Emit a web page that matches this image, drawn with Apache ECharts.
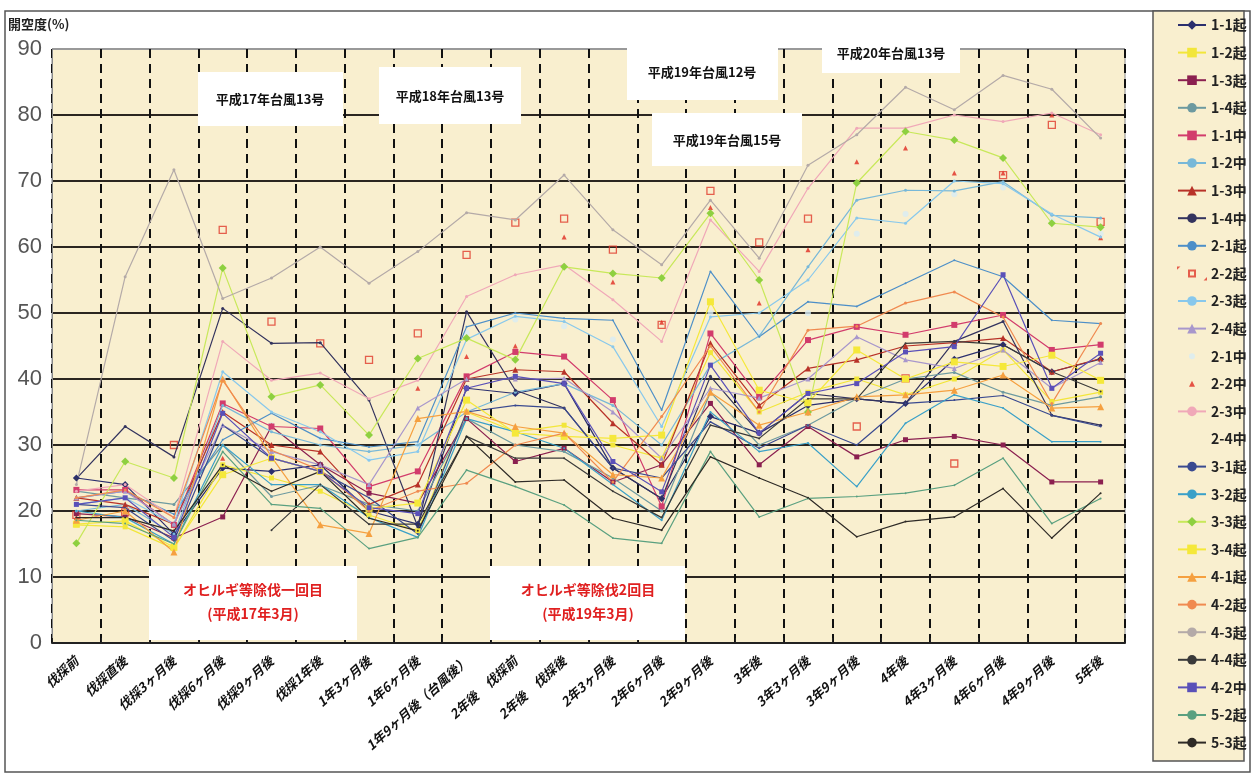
<!DOCTYPE html>
<html>
<head>
<meta charset="utf-8">
<script src="https://cdn.jsdelivr.net/npm/echarts@6/dist/echarts.min.js"></script>
<style>
html, body { margin: 0; padding: 0; background: #fff; }
#chart { width: 1256px; height: 775px; }
</style>
</head>
<body>
<div id="chart"></div>
<script>
// 伐採後の開空度の推移
const categories = ['伐採前', '伐採直後', '伐採3ヶ月後', '伐採6ヶ月後', '伐採9ヶ月後', '伐採1年後',
  '1年3ヶ月後', '1年6ヶ月後', '1年9ヶ月後（台風後）', '2年後　伐採前', '2年後　伐採後', '2年3ヶ月後',
  '2年6ヶ月後', '2年9ヶ月後', '3年後', '3年3ヶ月後', '3年9ヶ月後', '4年後', '4年3ヶ月後',
  '4年6ヶ月後', '4年9ヶ月後', '5年後'];
const yTicks = [0, 10, 20, 30, 40, 50, 60, 70, 80, 90];

const s11k = [25, 24, 16.5, 26.5, 26, 27, 20, 18, 38.6, 37.8, 39.3, 26.5, 21.9, 34.3, 31.8, 36, 37, 36.3, 43, 45.2, 41.1, 43];
const s12k = [17.9, 17.6, 14.3, 27, 25, 23, 19.4, 17, 35, 32, 33, 30, 28, 44, 35, 38, 40, 37.6, 40, 44.4, 36.6, 38];
const s13k = [19.6, 19.1, 15.9, 19.1, 32.8, 27, 22.7, 21.2, 34, 27.5, 29.5, 24.4, 27, 36.3, 27, 32.8, 28.2, 30.8, 31.3, 30, 24.4, 24.4];
const s14k = [23, 22, 21, 30, 22.2, 23.9, 21, 20, 34, 30, 29, 25, 20, 38, 30, 33, 37, 40, 41, 38, 36, 37.3];
const s11c = [23.2, 23.2, 17.9, 36.3, 32.8, 32.5, 23.7, 26, 40.4, 44.1, 43.4, 36.8, 20.7, 46.9, 37.3, 45.9, 47.9, 46.7, 48.2, 49.7, 44.4, 45.2];
const s12c = [20, 21, 16.5, 36, 32, 30, 29, 30, 35, 38, 39.3, 36, 30, 42.1, 46.5, 57, 67.1, 68.6, 68.5, 69.9, 64.8, 64.4];
const s13c = [22, 21, 18, 35, 30, 29, 21, 24, 40, 41.4, 41.1, 33.3, 27, 45.4, 36, 41.6, 42.9, 45, 45.5, 46.2, 41.1, 43.1];
const s14c = [24.9, 32.8, 28.2, 50.7, 45.4, 45.5, 36.8, 17.6, 50.2, 38.3, 35.6, 26.5, 21.9, 40.4, 31.8, 37.8, 37, 36.3, 45.7, 48.7, 34.5, 33];
const s21k = [22, 23, 19.5, 30.8, 34.8, 31, 29.7, 30.5, 47.9, 50, 49.2, 48.9, 35.3, 56.3, 46.4, 51.7, 51, 54.5, 58, 55.5, 48.9, 48.4];
const s22k = [19.4, 19.8, 30, 62.6, 48.7, 45.4, 42.9, 46.9, 58.8, 63.7, 64.3, 59.6, 48.2, 68.5, 60.7, 64.3, 32.8, 40.1, 27.2, 70.9, 78.5, 63.8];
const s23k = [21, 22, 18, 41.1, 35, 32, 27.7, 29, 46, 49.5, 48.7, 44.9, 32.8, 49.4, 50, 55, 64.4, 63.6, 70, 69.6, 65, 61.5];
const s24k = [22, 23, 18, 33, 29, 27, 24, 35.6, 40, 40, 40.1, 35, 28, 38.6, 37.1, 40, 46.4, 42.9, 41.6, 44.4, 38.6, 42.5];
const s21c = [21, 22, 18, 40, 33, 31, 28, 30, 47, 49, 48, 46, 32, 50, 47, 50, 62, 65, 68, 69, 64, 62];
const s22c = [19, 21, 17, 28, 33, 32.5, 23, 38.6, 43.4, 45, 61.5, 54.7, 48.6, 66, 51.5, 59.6, 72.9, 75, 71.2, 71.2, 80, 61.4];
const s23c = [23, 24, 19, 45.7, 39.8, 40.9, 37, 39.8, 52.5, 55.8, 57.3, 52, 45.7, 64.1, 56.3, 68.9, 78, 78, 80, 79, 80.3, 77];
const s24c = [];
const s31k = [21, 20.5, 15.5, 33, 28, 26, 22, 16.5, 35, 36, 35.6, 26.5, 25, 33.5, 29.5, 33, 30, 36.3, 36.8, 37.5, 34.5, 32.8];
const s32k = [20, 19, 15, 30, 24, 24, 19, 16, 34, 32, 29.5, 24, 18.6, 35, 29, 30.3, 23.7, 33.3, 37.6, 35.6, 30.5, 30.5];
const s33k = [15.1, 27.5, 25, 56.8, 37.3, 39.1, 31.5, 43.1, 46.2, 42.9, 57, 56, 55.3, 65.1, 55, 35, 69.7, 77.5, 76.2, 73.5, 63.6, 63];
const s34k = [18, 18.5, 14.5, 25.5, 28, 26, 20.4, 21.2, 36.8, 31.8, 31.3, 31, 31.5, 51.7, 38.3, 36.4, 44.4, 40, 42.6, 41.9, 43.6, 39.8];
const s41k = [18.6, 20, 13.8, 40, 28.2, 17.9, 16.6, 34, 35.1, 32.8, 31.8, 25.5, 25, 38, 33, 35, 37.3, 37.6, 38.3, 40.6, 35.6, 35.8];
const s42k = [22, 23.2, 19, 39.8, 29.2, 26.2, 20, 23, 24.2, 30, 31.8, 24.4, 34.3, 45, 35, 47.4, 48, 51.5, 53.2, 49.4, 36.3, 48.4];
const s43k = [24, 55.5, 71.7, 52.2, 55.3, 60, 54.5, 59.3, 65.2, 64.1, 70.9, 62.6, 57.3, 67.1, 58.3, 72.4, 77, 84.2, 80.8, 86, 83.9, 76.5];
const s44k = [null, null, null, null, 17.1, 24, 18, 18, 31.3, 28, 28, 23, 19, 33, 31, 37, 37, 45.4, 45.7, 45.2, 41.1, 38.1];
const s42c = [21, 22, 16, 34.8, 28, 26, 20.5, 19.6, 38.6, 40.4, 39.3, 27.5, 22.9, 42.1, 31.8, 37.8, 39.3, 44.1, 44.9, 55.8, 38.6, 43.9];
const s52k = [18.6, 18.1, 15, 29, 21, 20.4, 14.3, 16, 26.2, 23.7, 20.9, 15.9, 15.1, 29, 19.1, 21.9, 22.2, 22.7, 23.9, 28, 18.1, 21.9];
const s53k = [19, 19, 17, 27, 23, 26, 18.9, 17, 31.3, 24.4, 24.7, 18.9, 17.1, 28.2, 25, 22, 16.1, 18.4, 19.1, 23.4, 15.9, 22.7];

const FONT = "'Liberation Sans Narrow', 'Noto Sans CJK JP', sans-serif";

// 折れ線
function line(name, data, color, symbol, size, markColor) {
  return {
    name: name, type: 'line', data: data,
    symbol: symbol, symbolSize: size, showSymbol: true,
    lineStyle: { color: color, width: 1.2 },
    itemStyle: { color: markColor || color, borderWidth: 0 },
    connectNulls: false
  };
}
// 点のみ
function dots(name, data, color, symbol, size, empty) {
  return {
    name: name, type: 'scatter', data: data,
    symbol: symbol, symbolSize: size,
    itemStyle: empty ? { color: 'rgba(0,0,0,0)', borderColor: color, borderWidth: 1.3 } : { color: color }
  };
}

const series = [
  line('1-1起', s11k, '#2b2f6e', 'diamond', 7),
  line('1-2起', s12k, '#f2e63a', 'rect', 5),
  line('1-3起', s13k, '#8b2050', 'rect', 5),
  line('1-4起', s14k, '#6d9aa0', 'circle', 3),
  line('1-1中', s11c, '#d23c6c', 'rect', 6),
  line('1-2中', s12c, '#78b8d8', 'circle', 3),
  line('1-3中', s13c, '#b83228', 'triangle', 6),
  line('1-4中', s14c, '#33335e', 'circle', 3),
  line('2-1起', s21k, '#4d8fc8', 'circle', 2),
  dots('2-2起', s22k, '#e03a2a', 'rect', 7, true),
  line('2-3起', s23k, '#88c8ec', 'circle', 3),
  line('2-4起', s24k, '#a897cc', 'triangle', 5),
  dots('2-1中', s21c, '#d8ecf4', 'circle', 6),
  dots('2-2中', s22c, '#e02a20', 'triangle', 5),
  line('2-3中', s23c, '#f0a8b8', 'circle', 3),
  dots('2-4中', s24c, 'rgba(0,0,0,0)', 'circle', 4),
  line('3-1起', s31k, '#3a4a90', 'circle', 2),
  line('3-2起', s32k, '#3aa0c8', 'circle', 2),
  line('3-3起', s33k, '#c8e85a', 'diamond', 8, '#8ed040'),
  line('3-4起', s34k, '#f5e83a', 'rect', 7),
  line('4-1起', s41k, '#f5a040', 'triangle', 7),
  line('4-2起', s42k, '#f08a50', 'circle', 3),
  line('4-3起', s43k, '#b4aaa8', 'circle', 3),
  line('4-4起', s44k, '#3a3a3a', 'circle', 2),
  line('4-2中', s42c, '#5a50b8', 'rect', 5),
  line('5-2起', s52k, '#5aa080', 'circle', 2),
  line('5-3起', s53k, '#2e2a26', 'circle', 2)
];

// 点だけの系列の凡例記号は小さく（外側に見えない点を置いて縮める）
const PAD = 'M0,0L0.01,0L0,0.01ZM28,12L27.99,12L28,11.99Z';
const ICONS = {
  rect: 'path://' + PAD + 'M11,3H17V9H11Z',
  triangle: 'path://' + PAD + 'M14,3L17,9H11Z',
  circle: 'path://' + PAD + 'M11,6A3,3 0 1 0 17,6A3,3 0 1 0 11,6Z'
};
const legendData = series.map(s => s.type === 'scatter' ? { name: s.name, icon: ICONS[s.symbol] } : s.name);

function box(x, y, w, h) {
  return { type: 'rect', z: 1, shape: { x: x, y: y, width: w, height: h }, style: { fill: '#fff' } };
}
function note(x, y, text, color, size) {
  return {
    type: 'text', z: 1, x: x, y: y,
    style: { text: text, fill: color || '#111', font: 'bold ' + (size || 13) + 'px ' + FONT, textAlign: 'center', textVerticalAlign: 'middle', lineHeight: 24 }
  };
}

const chart = echarts.init(document.getElementById('chart'));
chart.setOption({
  animation: false,
  backgroundColor: '#fff',
  grid: { left: 52, right: 131, top: 49, bottom: 132, show: true, backgroundColor: '#f9efcf', borderColor: '#8a8a8a', borderWidth: 1 },
  xAxis: {
    type: 'category', data: categories, boundaryGap: true,
    axisLine: { lineStyle: { color: '#222', width: 2 } },
    axisTick: { show: true, inside: true, length: 5, lineStyle: { color: '#222' } },
    axisLabel: { rotate: 42, interval: 0, margin: 16, fontSize: 13, fontWeight: 'bold', fontStyle: 'italic', color: '#111', fontFamily: FONT },
    splitLine: { show: true, interval: 0, lineStyle: { color: '#111', width: 2, type: [9, 6] } }
  },
  yAxis: {
    type: 'value', min: yTicks[0], max: yTicks[yTicks.length - 1], interval: 10,
    axisLine: { show: true, lineStyle: { color: '#888', width: 1 } },
    axisTick: { show: false },
    axisLabel: { fontSize: 22, color: '#555', margin: 10, fontFamily: "'Liberation Sans Narrow', sans-serif" },
    splitLine: { lineStyle: { color: ['#222', '#2b2620', '#2b2620', '#2b2620', '#2b2620', '#2b2620', '#2b2620', '#2b2620', '#2b2620', '#999'], width: 2 } }
  },
  legend: {
    orient: 'vertical', left: 1172, top: 13,
    itemWidth: 28, itemHeight: 12, itemGap: 13.6,
    textStyle: { fontSize: 14, fontWeight: 'bold', color: '#222', fontFamily: FONT },
    data: legendData
  },
  graphic: [
    { type: 'rect', z: -1, silent: true, shape: { x: 5, y: 11, width: 1245, height: 761 }, style: { fill: 'none', stroke: '#555', lineWidth: 1.5 } },
    { type: 'rect', z: 0, silent: true, shape: { x: 1153, y: 11, width: 91, height: 750 }, style: { fill: '#f9efcf', stroke: '#555', lineWidth: 1.5 } },
    { type: 'text', left: 8, top: 18, style: { text: '開空度(%)', fill: '#222', font: 'bold 13px ' + FONT } },
    box(198, 72, 145, 54), note(270, 99, '平成17年台風13号'),
    box(379, 67, 142, 57), note(450, 96, '平成18年台風13号'),
    box(627, 41, 151, 59), note(702, 72, '平成19年台風12号'),
    box(652, 113, 150, 53), note(727, 140, '平成19年台風15号'),
    box(822, 41, 138, 32), note(891, 53, '平成20年台風13号'),
    box(149, 566, 208, 74), note(253, 602, 'オヒルギ等除伐一回目\n(平成17年3月)', '#e02020', 14),
    box(490, 566, 195, 74), note(588, 602, 'オヒルギ等除伐2回目\n(平成19年3月)', '#e02020', 14)
  ],
  series: series
});
</script>
</body>
</html>
